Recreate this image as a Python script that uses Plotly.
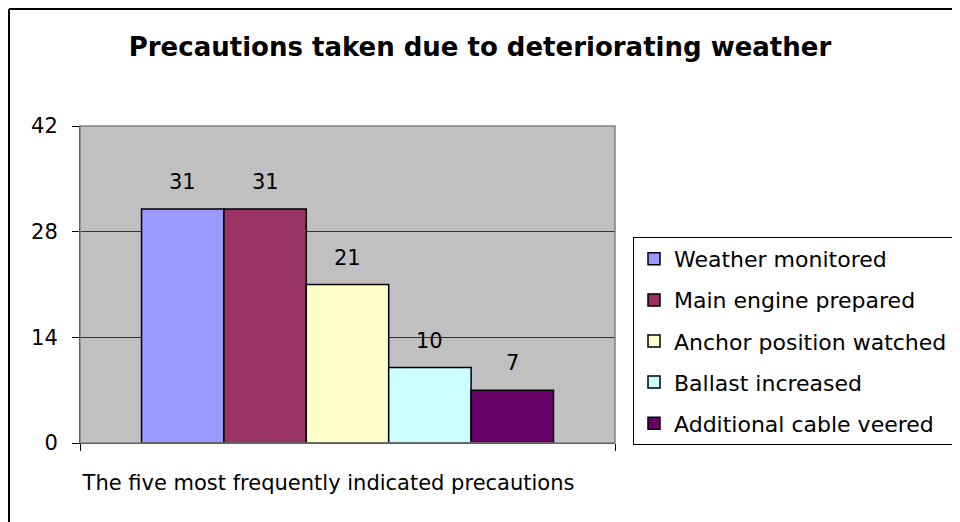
import plotly.graph_objects as go

# ---- data ----
categories = ["The five most frequently indicated precautions"]
series_names = [
    "Weather monitored",
    "Main engine prepared",
    "Anchor position watched",
    "Ballast increased",
    "Additional cable veered",
]
series_values = [31, 31, 21, 10, 7]
series_colors = ["#9999FF", "#993366", "#FFFFCC", "#CCFFFF", "#660066"]
y_ticks = [0, 14, 28, 42]
title_text = "Precautions taken due to deteriorating weather"

# ---- layout constants (page has an 8px body margin) ----
OFF = 8
W, H = 960 - OFF, 522 - OFF
ML, MR, MT, MB = 80 - OFF, 960 - 615, 126 - OFF, 522 - 443
BARGAP = 0.23
FONT = "DejaVu Sans"

fig = go.Figure()
for name, val, col in zip(series_names, series_values, series_colors):
    fig.add_trace(go.Bar(
        x=categories, y=[val], name=name, legendgroup=name,
        marker=dict(color=col, line=dict(color="black", width=1.5)),
    ))

# value labels above bars (positions derived from the bar layout on the category axis)
n = len(series_values)
w = (1 - BARGAP) / n
for i, v in enumerate(series_values):
    xc = -0.5 + BARGAP / 2 + (i + 0.5) * w
    fig.add_annotation(x=xc, y=v, xref="x", yref="y", text=str(v), showarrow=False,
                       yanchor="bottom", yshift=13,
                       font=dict(family=FONT, size=21, color="black"))

pw = 615 - 80
ph = 443 - 126
def px_x(p):  # p: x pixel in the screenshot
    return (p - 80) / pw
def px_y(p):  # p: y pixel in the screenshot
    return (443 - p) / ph

fig.update_layout(
    width=W, height=H,
    margin=dict(l=ML, r=MR, t=MT, b=MB, autoexpand=False),
    paper_bgcolor="white", plot_bgcolor="#C0C0C0",
    barmode="group", bargap=BARGAP, bargroupgap=0,
    title=dict(text=f"<b>{title_text}</b>", x=(480 - OFF) / W, xref="container", xanchor="center",
               y=1 - (47 - OFF) / H, yref="container", yanchor="middle",
               font=dict(family=FONT, size=26, color="black")),
    font=dict(family=FONT, color="black"),
    showlegend=True,
    legend=dict(x=px_x(633), y=px_y(237), xanchor="left", yanchor="top",
                xref="paper", yref="paper",
                bgcolor="white", bordercolor="black", borderwidth=1,
                font=dict(family=FONT, size=22, color="black"),
                tracegroupgap=9.5, traceorder="grouped"),
    xaxis=dict(showline=True, linecolor="black", linewidth=1,
               ticks="outside", tickson="boundaries", ticklen=7, tickcolor="black",
               tickfont=dict(family=FONT, size=21, color="black"),
               ticklabelstandoff=21, ticklabelshift=-19,
               showgrid=False, fixedrange=True),
    yaxis=dict(range=[0, 42], tickvals=y_ticks, showline=True, linecolor="black", linewidth=1,
               ticks="outside", ticklen=7, tickcolor="black",
               tickfont=dict(family=FONT, size=21, color="black"),
               ticklabelstandoff=10,
               showgrid=True, gridcolor="#333333", gridwidth=1,
               zeroline=False, fixedrange=True),
    shapes=[
        # plot area gray frame (top/right)
        dict(type="rect", xref="paper", yref="paper", x0=0, x1=1, y0=0, y1=1,
             line=dict(color="#808080", width=1.5), layer="above"),
        # outer chart frame (top and left edges visible)
        dict(type="line", xref="paper", yref="paper", x0=px_x(9), x1=px_x(1000),
             y0=px_y(9), y1=px_y(9), line=dict(color="black", width=2)),
        dict(type="line", xref="paper", yref="paper", x0=px_x(9), x1=px_x(9),
             y0=px_y(9), y1=px_y(540), line=dict(color="black", width=2)),
    ],
)

fig.write_html("out.html")
